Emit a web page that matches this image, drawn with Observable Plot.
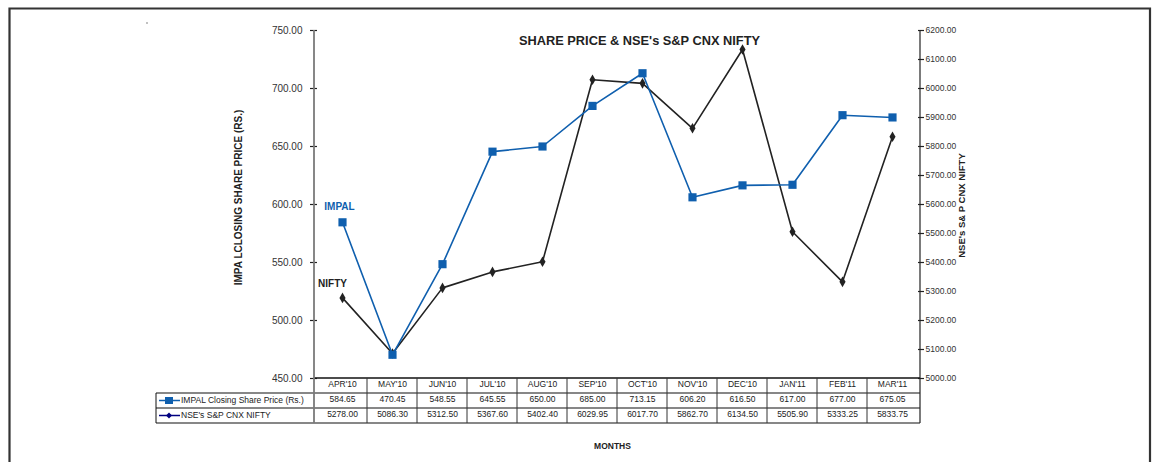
<!DOCTYPE html>
<html>
<head>
<meta charset="utf-8">
<script src="https://cdn.jsdelivr.net/npm/d3@7"></script>
<script src="https://cdn.jsdelivr.net/npm/@observablehq/plot@0.6"></script>
<style>
  html, body { margin: 0; padding: 0; background: #fff; }
  svg { display: block; }
</style>
</head>
<body>
<div id="chart"></div>
<script>
const months = ["APR'10","MAY'10","JUN'10","JUL'10","AUG'10","SEP'10","OCT'10","NOV'10","DEC'10","JAN'11","FEB'11","MAR'11"];
const impal = [584.65, 470.45, 548.55, 645.55, 650.00, 685.00, 713.15, 606.20, 616.50, 617.00, 677.00, 675.05];
const nifty = [5278.00, 5086.30, 5312.50, 5367.60, 5402.40, 6029.95, 6017.70, 5862.70, 6134.50, 5505.90, 5333.25, 5833.75];
const leftTicks = [450, 500, 550, 600, 650, 700, 750];
const rightTicks = [5000, 5100, 5200, 5300, 5400, 5500, 5600, 5700, 5800, 5900, 6000, 6100, 6200];
const seriesNames = ["IMPAL Closing Share Price (Rs.)", "NSE's S&P CNX NIFTY"];
const title = "SHARE PRICE & NSE's S&P CNX NIFTY";
const leftLabel = "IMPA LCLOSING SHARE PRICE (RS.)";
const rightLabel = "NSE's S& P CNX NIFTY";
const xLabel = "MONTHS";

const BLUE = "#0f5fae";
const DARK = "#222222";
const NAVY = "#000080";
const FONT = "'Liberation Sans', Arial, Helvetica, sans-serif";

// map right-axis values onto the left-axis domain
const lMin = leftTicks[0], lMax = leftTicks[leftTicks.length - 1];
const rMin = rightTicks[0], rMax = rightTicks[rightTicks.length - 1];
const toLeft = v => lMin + (v - rMin) * (lMax - lMin) / (rMax - rMin);
const fromLeft = v => rMin + (v - lMin) * (rMax - rMin) / (lMax - lMin);

const impalData = months.map((m, i) => ({month: m, value: impal[i]}));
const niftyData = months.map((m, i) => ({month: m, value: nifty[i], mapped: toLeft(nifty[i])}));

const fmt = d => d.toFixed(2);
const rowH = 15;
const tableFont = 8.5;

const chart = Plot.plot({
  width: 1152,
  height: 462,
  marginLeft: 314,
  marginRight: 232,
  marginTop: 30,
  marginBottom: 84,
  style: {fontFamily: FONT, background: "#fff", overflow: "visible"},
  x: {type: "band", domain: months, padding: 0, axis: null},
  y: {domain: [lMin, lMax], axis: null},
  marks: [
    Plot.axisY({anchor: "left", ticks: leftTicks, tickFormat: fmt, tickSize: 7, dx: 3, tickPadding: 8,
                fontSize: 10, fill: "#333", stroke: "#222", strokeWidth: 1.2, label: null}),
    Plot.axisY({anchor: "right", ticks: rightTicks.map(toLeft), tickFormat: d => fmt(Math.round(fromLeft(d))),
                tickSize: 6, dx: -3, tickPadding: 2, fontSize: 8.5, fill: "#333", stroke: "#222", strokeWidth: 1.2, label: null}),
    Plot.line(niftyData, {x: "month", y: "mapped", stroke: DARK, strokeWidth: 1.6}),
    Plot.dot(niftyData, {x: "month", y: "mapped", symbol: "diamond", r: 3.2, fill: DARK, stroke: null}),
    Plot.line(impalData, {x: "month", y: "value", stroke: BLUE, strokeWidth: 1.6}),
    Plot.dot(impalData, {x: "month", y: "value", symbol: "square", r: 4.6, fill: BLUE, stroke: null}),
    Plot.text([impalData[0]], {x: "month", y: "value", text: () => "IMPAL", dy: -16, dx: -3, fill: BLUE,
                fontWeight: "bold", fontSize: 10}),
    Plot.text([niftyData[0]], {x: "month", y: "mapped", text: () => "NIFTY", dy: -14, dx: -10, fill: DARK,
                fontWeight: "bold", fontSize: 10}),
    Plot.text([title], {frameAnchor: "top", dx: 22, dy: 5, fontWeight: "bold", fontSize: 12.8, fill: "#222"}),
    Plot.text([xLabel], {frameAnchor: "bottom", dx: -5, dy: 70, fontWeight: "bold", fontSize: 8.5, fill: "#222"}),
    Plot.text([leftLabel], {frameAnchor: "left", textAnchor: "middle", rotate: -90, dx: -76, dy: -7, fontWeight: "bold", fontSize: 10,
                fill: "#222", letterSpacing: "0.9px"}),
    Plot.text([rightLabel], {frameAnchor: "right", textAnchor: "middle", rotate: -90, dx: 41, dy: 1, fontWeight: "bold", fontSize: 9.5,
                fill: "#222", letterSpacing: "0.8px"}),
    // data table texts
    Plot.text(months, {x: d => d, frameAnchor: "bottom", dy: rowH * 0.5 + 1, fontSize: tableFont, fill: "#222"}),
    Plot.text(impalData, {x: "month", text: d => fmt(d.value), frameAnchor: "bottom", dy: rowH * 1.5 + 1, fontSize: tableFont, fill: "#222"}),
    Plot.text(niftyData, {x: "month", text: d => fmt(d.value), frameAnchor: "bottom", dy: rowH * 2.5 + 1, fontSize: tableFont, fill: "#222"})
  ]
});

document.getElementById("chart").appendChild(chart);

// table grid, axis lines and frame border drawn from the Plot scales
const svg = d3.select(chart);
const sx = chart.scale("x");
const sy = chart.scale("y");
const x0 = sx.range[0], x1 = sx.range[1];
const yTop = sy.apply(lMax), yb = sy.apply(lMin);
const legendLeft = 156;
const g = svg.append("g").attr("fill", "none").attr("stroke", "#111").attr("stroke-width", 1);

// horizontal table lines
[0, 1, 2, 3].forEach(k => {
  g.append("line").attr("x1", k === 0 ? x0 : legendLeft).attr("x2", x1)
    .attr("y1", yb + k * rowH).attr("y2", yb + k * rowH)
    .attr("stroke-width", k === 0 ? 1.4 : 1.1);
});
// vertical band separators
months.forEach((m, i) => {
  if (i === 0) return;
  const xx = sx.apply(m);
  g.append("line").attr("x1", xx).attr("x2", xx).attr("y1", yb).attr("y2", yb + 3 * rowH).attr("stroke", "#333");
});
// legend box left side
g.append("line").attr("x1", legendLeft).attr("x2", legendLeft).attr("y1", yb + rowH).attr("y2", yb + 3 * rowH);
// axis lines
g.append("line").attr("x1", x0).attr("x2", x0).attr("y1", yTop).attr("y2", yb + 3 * rowH)
  .attr("stroke", "#7a7a7a").attr("stroke-width", 1.8);
g.append("line").attr("x1", x1).attr("x2", x1).attr("y1", yTop).attr("y2", yb + 3 * rowH)
  .attr("stroke", "#222").attr("stroke-width", 1.2);

// legend keys in table
const lg = svg.append("g");
const keyX1 = legendLeft + 3, keyX2 = legendLeft + 24, keyMid = legendLeft + 13;
const yr1 = yb + rowH * 1.5, yr2 = yb + rowH * 2.5;
lg.append("line").attr("x1", keyX1).attr("x2", keyX2).attr("y1", yr1).attr("y2", yr1).attr("stroke", BLUE).attr("stroke-width", 1.5);
lg.append("rect").attr("x", keyMid - 4).attr("y", yr1 - 3.5).attr("width", 8).attr("height", 7).attr("fill", BLUE);
lg.append("line").attr("x1", keyX1).attr("x2", keyX2).attr("y1", yr2).attr("y2", yr2).attr("stroke", NAVY).attr("stroke-width", 1.5);
lg.append("path").attr("d", `M${keyMid},${yr2 - 3}L${keyMid + 3},${yr2}L${keyMid},${yr2 + 3}L${keyMid - 3},${yr2}Z`).attr("fill", NAVY);
[yr1, yr2].forEach((yy, i) => {
  lg.append("text").attr("x", keyX2 + 1).attr("y", yy).attr("dy", "0.35em")
    .attr("text-anchor", "start")
    .attr("font-size", tableFont).attr("font-family", FONT).attr("fill", "#222").text(seriesNames[i]);
});

// outer frame border
const fb = svg.append("g").attr("stroke", "#333").attr("stroke-width", 2.2).attr("fill", "none");
fb.append("path").attr("d", "M9.5,462V8.5H1150V462");
// stray dot near top-left as in the reference
svg.append("circle").attr("cx", 147).attr("cy", 23).attr("r", 0.7).attr("fill", "#555");
</script>
</body>
</html>
